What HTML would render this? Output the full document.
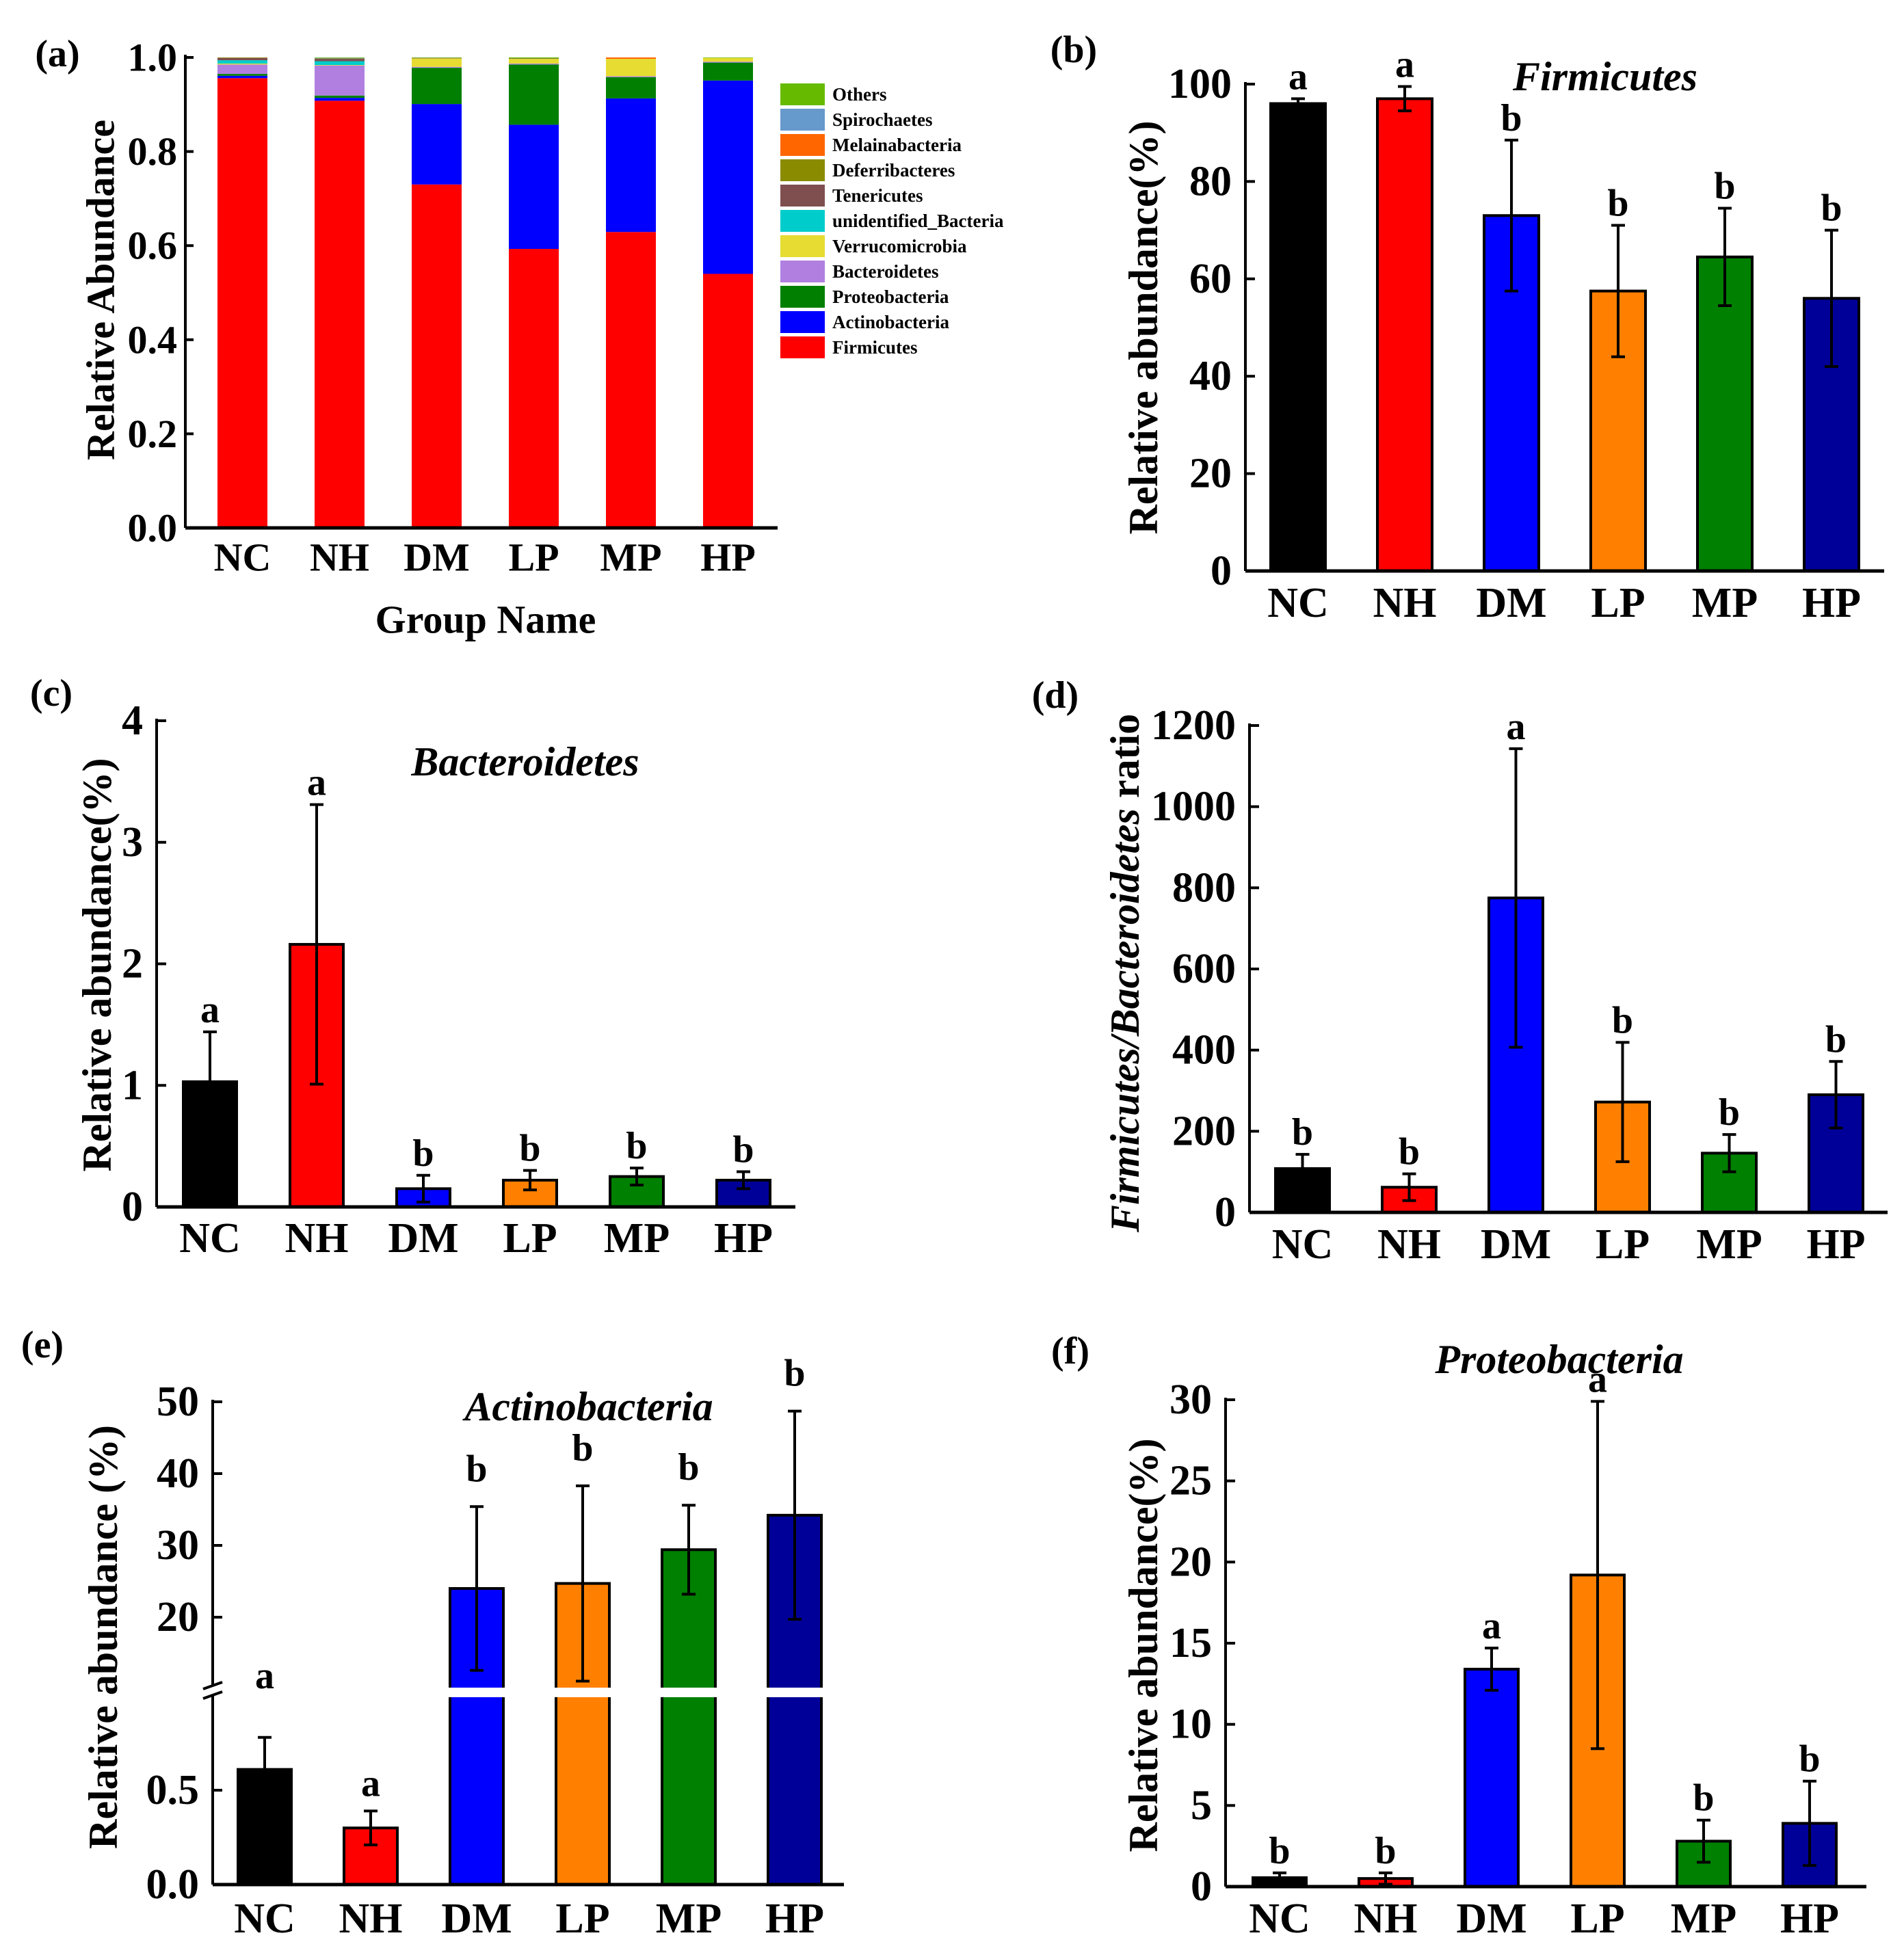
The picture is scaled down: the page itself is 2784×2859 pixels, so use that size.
<!DOCTYPE html>
<html><head><meta charset="utf-8"><style>
html,body{margin:0;padding:0;background:#fff}
svg{display:block}
text{font-family:"Liberation Serif","Times New Roman",serif;font-weight:bold;fill:#000}
</style></head><body>
<svg id="fig" width="2784" height="2859" viewBox="0 0 2784 2859" xmlns="http://www.w3.org/2000/svg"></svg>
<script>
const groups = ["NC","NH","DM","LP","MP","HP"];
const barColors = ["#000000","#ff0000","#0000ff","#ff8000","#008000","#000099"];
// panel a stacked
const phyla = ["Firmicutes","Actinobacteria","Proteobacteria","Bacteroidetes","Verrucomicrobia","unidentified_Bacteria","Tenericutes","Deferribacteres","Melainabacteria","Spirochaetes","Others"];
const phylaColors = ["#ff0000","#0000ff","#007f00","#b07fe0","#e6dc32","#00cccc","#7f4f4f","#8b8b00","#ff6600","#6699cc","#66bb00"];
const stackFirmicutes = [0.956,0.908,0.730,0.593,0.629,0.540];
const stackActino = [0.005,0.006,0.171,0.264,0.284,0.411];
const stackProteo = [0.004,0.005,0.077,0.128,0.045,0.038];
const stackBacter = [0.020,0.064,0.002,0.002,0.002,0.002];
const stackVerruco = [0.002,0.001,0.018,0.010,0.037,0.008];
const stackUnident = [0.007,0.008,0.000,0.000,0.000,0.000];
const stackTeneric = [0.005,0.005,0.001,0.001,0.000,0.000];
const stackDeferri = [0.001,0.001,0.000,0.000,0.000,0.000];
const stackMelaina = [0.000,0.000,0.000,0.000,0.003,0.000];
const stackSpiro = [0.000,0.001,0.000,0.000,0.000,0.000];
const stackOthers = [0.000,0.001,0.001,0.002,0.000,0.001];
const ticksA = ["0.0","0.2","0.4","0.6","0.8","1.0"];
// panel b
const firmMean = [96,97,73,57.5,64.5,56];
const firmErr = [1,2.5,15.5,13.5,10,14];
const firmLetters = ["a","a","b","b","b","b"];
const ticksB = [0,20,40,60,80,100];
// panel c
const bactMean = [1.03,2.16,0.15,0.22,0.25,0.22];
const bactErr = [0.41,1.15,0.11,0.08,0.07,0.07];
const bactLetters = ["a","a","b","b","b","b"];
const ticksC = [0,1,2,3,4];
// panel d
const ratioMean = [108,62,775,272,146,290];
const ratioErr = [35,33,368,147,46,82];
const ratioLetters = ["b","b","a","b","b","b"];
const ticksD = [0,200,400,600,800,1000,1200];
// panel e
const actMean = [0.61,0.30,24.0,24.7,29.4,34.2];
const actErr = [0.17,0.09,11.4,13.6,6.2,14.5];
const actLetters = ["a","a","b","b","b","b"];
const ticksEHigh = [20,30,40,50];
const ticksELow = ["0.0","0.5"];
// panel f
const proMean = [0.55,0.5,13.4,19.2,2.8,3.9];
const proErr = [0.3,0.35,1.3,10.7,1.3,2.6];
const proLetters = ["b","b","a","a","b","b"];
const ticksF = [0,5,10,15,20,25,30];

const NS="http://www.w3.org/2000/svg";
const svg=document.getElementById('fig');
function mk(tag,attrs,parent){const e=document.createElementNS(NS,tag);for(const k in attrs)e.setAttribute(k,attrs[k]);(parent||svg).appendChild(e);return e;}
function txt(s,x,y,size,anchor,parent,italic){const t=mk('text',{x:x,y:y,'font-size':size,'text-anchor':anchor||'middle','dominant-baseline':'central'},parent);if(italic)t.setAttribute('font-style','italic');t.textContent=s;return t;}

function panelGroup(name){const g=mk('g',{});return g;}

// ---------- Panel a ----------
(function(){
  const g=panelGroup('panel-a');
  const ax=271,y0=772,y1=84,xEnd=1137,left0=318,w=73,sp=142;
  const Y=v=>y0-(y0-y1)*v;
  const series=[stackFirmicutes,stackActino,stackProteo,stackBacter,stackVerruco,stackUnident,stackTeneric,stackDeferri,stackMelaina,stackSpiro,stackOthers];
  groups.forEach((gn,i)=>{
    let cum=0;const x=left0+i*sp;
    series.forEach((s,k)=>{
      const v=s[i];if(v<=0)return;
      const r=mk('rect',{x:x,y:Y(cum+v),width:w,height:Y(cum)-Y(cum+v),fill:phylaColors[k]},g);
      
      
      cum+=v;
    });
    const l=txt(gn,x+w/2,815,58,'middle',g);
    
    
  });
  mk('line',{x1:ax,y1:y1-4,x2:ax,y2:y0,stroke:'#000','stroke-width':4},g);
  mk('line',{x1:ax,y1:y0,x2:xEnd,y2:y0,stroke:'#000','stroke-width':5},g);
  ticksA.forEach(t=>{const y=Y(parseFloat(t));mk('line',{x1:ax,y1:y,x2:ax+12,y2:y,stroke:'#000','stroke-width':4},g);
    const l=txt(t,ax-12,y,58,'end',g);
    
    });
  const yl=txt('Relative Abundance',147,424,58,'middle',g);yl.setAttribute('transform','rotate(-90 147 424)');
  
  
  const xl=txt('Group Name',710,906,58,'middle',g);
  
  
  const pl=txt('(a)',84,79,56,'middle',g);
  
  
  for(let k=phyla.length-1;k>=0;k--){
    const row=phyla.length-1-k;const cy=138+row*37;
    const lg=mk('g',{},g);
    
    
    mk('rect',{x:1141,y:cy-16,width:65,height:32,fill:phylaColors[k]},lg);
    txt(phyla[k],1217,cy,27,'start',lg);
  }
})();

// ---------- Generic bar panel ----------
function barPanel(cfg){
  const g=panelGroup(cfg.name);
  const Y=v=>cfg.y0-(cfg.y0-cfg.yTop)*v/cfg.vmax;
  groups.forEach((gn,i)=>{
    const x=cfg.left0+i*cfg.sp, cx=x+cfg.w/2;
    const m=cfg.mean[i], e=cfg.err[i];
    const r=mk('rect',{x:x,y:Y(m),width:cfg.w,height:cfg.y0-Y(m),fill:barColors[i],stroke:'#000','stroke-width':4},g);
    
    
    const lo=cfg.upperOnly&&cfg.upperOnly[i]?m:Math.max(0,m-e);
    const eb=mk('g',{stroke:'#000','stroke-width':4},g);
    
    
    mk('line',{x1:cx,y1:Y(m+e),x2:cx,y2:Y(lo)},eb);
    mk('line',{x1:cx-10,y1:Y(m+e),x2:cx+10,y2:Y(m+e)},eb);
    if(lo<m)mk('line',{x1:cx-10,y1:Y(lo),x2:cx+10,y2:Y(lo)},eb);
    const lt=txt(cfg.letters[i],cx,Y(m+e)-32,56,'middle',g);
    
    
    const l=txt(gn,cx,cfg.labelY,62,'middle',g);
    
    
  });
  mk('line',{x1:cfg.ax,y1:cfg.yTop-3,x2:cfg.ax,y2:cfg.y0,stroke:'#000','stroke-width':4},g);
  mk('line',{x1:cfg.ax,y1:cfg.y0,x2:cfg.xEnd,y2:cfg.y0,stroke:'#000','stroke-width':5},g);
  cfg.ticks.forEach(t=>{const y=Y(t);mk('line',{x1:cfg.ax,y1:y,x2:cfg.ax+14,y2:y,stroke:'#000','stroke-width':4},g);
    const l=txt(String(t),cfg.ax-20,y,62,'end',g);
    
    });
  const yl=mk('text',{x:cfg.ylx,y:cfg.yly,'font-size':60,'text-anchor':'middle','dominant-baseline':'central',transform:`rotate(-90 ${cfg.ylx} ${cfg.yly})`},g);
  
  
  if(cfg.ratioLabel){
    const a=mk('tspan',{'font-style':'italic'},yl);a.textContent='Firmicutes/Bacteroidetes';
    const b=mk('tspan',{},yl);b.textContent=' ratio';
  } else yl.textContent='Relative abundance(%)';
  if(cfg.title){const t=txt(cfg.title,cfg.tx,cfg.ty,60,'middle',g,true);
    
    }
  const pl=txt(cfg.panel,cfg.px,cfg.py,56,'middle',g);
  
  
}

barPanel({name:'panel-b',ax:1821,y0:835,yTop:123,vmax:100,xEnd:2755,left0:1858,w:80,sp:156,mean:firmMean,err:firmErr,letters:firmLetters,ticks:ticksB,labelY:882,ylx:1672,yly:479,title:'Firmicutes',tx:2347,ty:112,panel:'(b)',px:1570,py:73,upperOnly:[false,false,false,false,false,false]});
barPanel({name:'panel-c',ax:229,y0:1765,yTop:1054,vmax:4,xEnd:1163,left0:268,w:78,sp:156,mean:bactMean,err:bactErr,letters:bactLetters,ticks:ticksC,labelY:1811,ylx:142,yly:1411,title:'Bacteroidetes',tx:768,ty:1114,panel:'(c)',px:75,py:1014,upperOnly:[true,false,false,false,false,false]});
barPanel({name:'panel-d',ax:1827,y0:1773,yTop:1061,vmax:1200,xEnd:2760,left0:1865,w:79,sp:156,mean:ratioMean,err:ratioErr,letters:ratioLetters,ticks:ticksD,labelY:1820,ylx:1645,yly:1423,ratioLabel:true,panel:'(d)',px:1543,py:1017,upperOnly:[false,false,false,false,false,false]});
barPanel({name:'panel-f',ax:1792,y0:2759,yTop:2047,vmax:30,xEnd:2729,left0:1832,w:78,sp:155,mean:proMean,err:proErr,letters:proLetters,ticks:ticksF,labelY:2806,ylx:1672,yly:2406,title:'Proteobacteria',tx:2280,ty:1988,panel:'(f)',px:1565,py:1976,upperOnly:[false,false,false,false,false,false]});

// ---------- Panel e (broken axis) ----------
(function(){
  const g=panelGroup('panel-e');
  const ax=311,y0=2756,xEnd=1234,left0=348,w=78,sp=155;
  const lowTop=2482, highBot=2468;
  const Ylow=v=>y0-v*276;
  const Yhigh=v=>2365-(v-20)*10.5;
  const Y=v=>v<=1?Ylow(v):Yhigh(Math.max(v,10));
  groups.forEach((gn,i)=>{
    const x=left0+i*sp,cx=x+w/2,m=actMean[i],e=actErr[i];
    const bg=mk('g',{},g);
    
    
    if(m<=1){
      mk('rect',{x:x,y:Ylow(m),width:w,height:y0-Ylow(m),fill:barColors[i],stroke:'#000','stroke-width':4},bg);
    } else {
      mk('rect',{x:x,y:lowTop,width:w,height:y0-lowTop,fill:barColors[i]},bg);
      mk('rect',{x:x,y:Yhigh(m),width:w,height:highBot-Yhigh(m),fill:barColors[i]},bg);
      mk('path',{d:`M${x},${highBot}V${Yhigh(m)}H${x+w}V${highBot}M${x},${lowTop}V${y0}M${x+w},${lowTop}V${y0}`,fill:'none',stroke:'#000','stroke-width':4},bg);
    }
    const top=m+e, lo=(i===0)?m:m-e;
    const eb=mk('g',{stroke:'#000','stroke-width':4},g);
    
    
    mk('line',{x1:cx,y1:Y(top),x2:cx,y2:Y(lo)},eb);
    mk('line',{x1:cx-10,y1:Y(top),x2:cx+10,y2:Y(top)},eb);
    if(lo<m)mk('line',{x1:cx-10,y1:Y(lo),x2:cx+10,y2:Y(lo)},eb);
    const ly=m<=1?(i===0?2451:Y(top)-40):Y(top)-55;
    const lt=txt(actLetters[i],cx,ly,56,'middle',g);
    
    
    const l=txt(gn,cx,2806,62,'middle',g);
    
    
  });
  mk('line',{x1:ax,y1:Yhigh(50)-3,x2:ax,y2:2466,stroke:'#000','stroke-width':4},g);
  mk('line',{x1:ax,y1:2480,x2:ax,y2:y0,stroke:'#000','stroke-width':4},g);
  mk('line',{x1:ax-14,y1:2470,x2:ax+14,y2:2460,stroke:'#000','stroke-width':4},g);
  mk('line',{x1:ax-14,y1:2484,x2:ax+14,y2:2474,stroke:'#000','stroke-width':4},g);
  mk('line',{x1:ax,y1:y0,x2:xEnd,y2:y0,stroke:'#000','stroke-width':5},g);
  ticksEHigh.forEach(t=>{const y=Yhigh(t);mk('line',{x1:ax,y1:y,x2:ax+14,y2:y,stroke:'#000','stroke-width':4},g);
    const l=txt(String(t),ax-20,y,62,'end',g);
    
    });
  ticksELow.forEach(t=>{const y=Ylow(parseFloat(t));mk('line',{x1:ax,y1:y,x2:ax+14,y2:y,stroke:'#000','stroke-width':4},g);
    const l=txt(t,ax-20,y,62,'end',g);
    
    });
  const yl=txt('Relative abundance (%)',151,2394,60,'middle',g);yl.setAttribute('transform','rotate(-90 151 2394)');
  
  
  const t=txt('Actinobacteria',861,2057,60,'middle',g,true);
  
  
  const pl=txt('(e)',62,1967,56,'middle',g);
  
  
})();
</script>
</body></html>
